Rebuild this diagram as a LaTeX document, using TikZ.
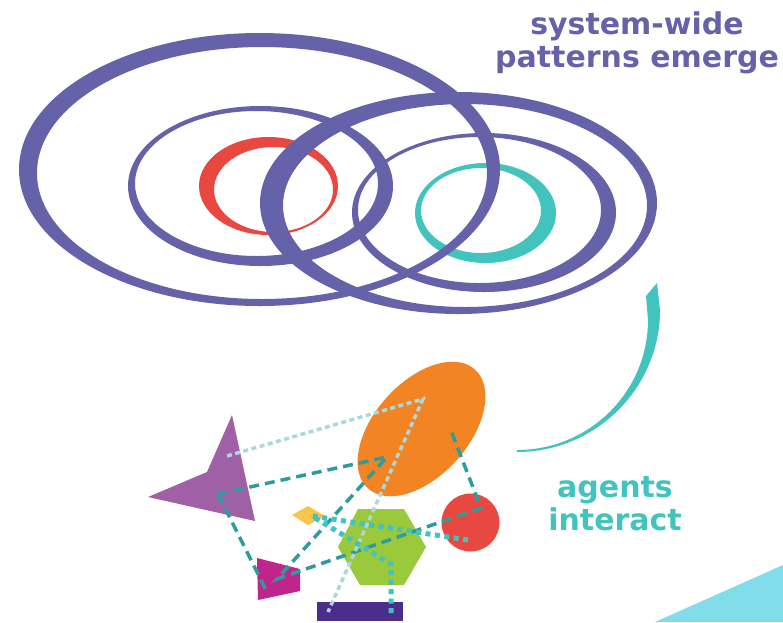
\documentclass[tikz,border=0pt]{standalone}
\usepackage{fontspec}
\setmainfont{DejaVu Sans}
\definecolor{ringpurple}{HTML}{6662AA}
\definecolor{ringred}{HTML}{E94840}
\definecolor{ringteal}{HTML}{42C3BE}
\definecolor{agentorange}{HTML}{F28423}
\definecolor{agentviolet}{HTML}{A060A6}
\definecolor{agentyellow}{HTML}{F9C44A}
\definecolor{agentgreen}{HTML}{9AC93C}
\definecolor{agentred}{HTML}{E94840}
\definecolor{agentmagenta}{HTML}{C2248E}
\definecolor{agentindigo}{HTML}{4B2D8B}
\definecolor{cornercyan}{HTML}{80DDE9}
\definecolor{linkteal}{HTML}{2E9C9C}
\definecolor{linkpale}{HTML}{A8D9E1}
\definecolor{bondteal}{HTML}{42C3C3}
\begin{document}
\begin{tikzpicture}[x=1pt,y=-1pt,
  ring/.style={even odd rule},
  link/.style={draw=linkteal, line width=3.5pt, dash pattern=on 10pt off 6pt},
  faint/.style={draw=linkpale, line width=3.5pt, dash pattern=on 5pt off 3.5pt},
  bond/.style={draw=bondteal, line width=5pt, dash pattern=on 5pt off 4.5pt},
  caption/.style={font=\bfseries\fontsize{30}{32.5}\selectfont, align=center, inner sep=0pt}]
\useasboundingbox (0,0) rectangle (783,622);

% inner coloured rings (drawn first, purple rings pass over them)
\fill[ringred, ring] (268.5,186) ellipse [x radius=69.5, y radius=49]
                     (273.5,189.5) ellipse [x radius=59.5, y radius=42.5];
\fill[ringteal, ring] (485.5,213) ellipse [x radius=70.5, y radius=50]
                      (481,210.5) ellipse [x radius=60, y radius=42.5];

% purple pattern rings
\fill[ringpurple, ring] (259.5,169.5) ellipse [x radius=240.5, y radius=136.5]
                        (262,173) ellipse [x radius=225, y radius=126];
\fill[ringpurple, ring] (260.5,186) ellipse [x radius=132.5, y radius=80]
                        (256.5,183.5) ellipse [x radius=121.5, y radius=72.5];
\fill[ringpurple, ring] (458.5,203) ellipse [x radius=198.5, y radius=111]
                        (465,205.5) ellipse [x radius=182, y radius=101.5];
\fill[ringpurple, ring] (484,212.5) ellipse [x radius=132, y radius=79.5]
                        (479.5,210) ellipse [x radius=121.5, y radius=73];

% feedback arc
\fill[ringteal] (657,283) -- (660,310)
  .. controls (660,388) and (596,452) .. (517,452)
  -- (517,450)
  .. controls (589,450) and (648,392) .. (648,320)
  -- (646,296) -- cycle;

% corner wedge
\fill[cornercyan] (655,622) -- (783,565) -- (783,622) -- cycle;

% agents
\begin{scope}[shift={(421.5,429)}, rotate=48]
  \fill[agentorange] (0,0) ellipse [x radius=80, y radius=47];
\end{scope}
\fill[agentviolet] (148,497) -- (207,472) -- (232,415) -- (255,521) -- cycle;
\fill[agentyellow] (292,515) -- (308,506) -- (325,516) -- (308,525) -- cycle;
\fill[agentgreen] (338,547) -- (358,509) -- (404,509) -- (426,547) -- (404,585) -- (360,585) -- cycle;
\fill[agentred] (470.5,522.5) circle [radius=29];
\fill[agentmagenta] (257,558) -- (300,569) -- (300,591) -- (258,600) -- cycle;
\fill[agentindigo] (317,602) rectangle (403,621);

% interaction end points
\coordinate (tri) at (218,494);
\coordinate (triB) at (227,456);
\coordinate (oraA) at (387,457);
\coordinate (oraB) at (450,428);
\coordinate (oraC) at (423,399);
\coordinate (magA) at (266,590);
\coordinate (magB) at (277,579);
\coordinate (red) at (481,508);
\coordinate (redB) at (468,540);
\coordinate (dia) at (312,516);
\coordinate (hexbend) at (391,564);
\coordinate (rect) at (328,612);
\coordinate (rectB) at (391,615);

% interactions
\draw[link] (tri) -- (oraA) -- (magB) -- (red) -- (oraB);
\draw[link] (tri) -- (magA);
\draw[faint] (triB) -- (oraC) -- (rect);
\draw[bond] (redB) -- (dia) -- (hexbend) -- (rectB);

% captions (anchored at the baseline of the last line)
\node[caption, text=ringpurple, anchor=base] (emerge) at (637,67) {system-wide\\patterns emerge};
\node[caption, text=ringteal, anchor=base] (interact) at (615,530) {agents\\interact};
\end{tikzpicture}
\end{document}
